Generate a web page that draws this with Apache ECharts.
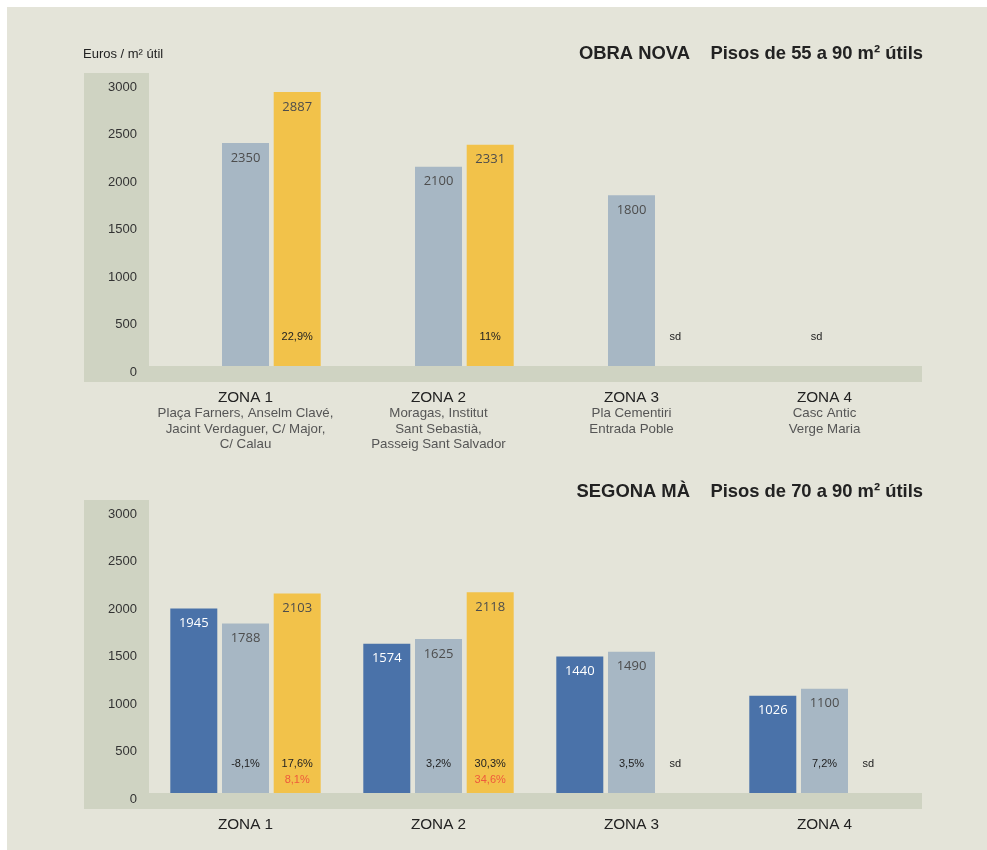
<!DOCTYPE html>
<html>
<head>
<meta charset="utf-8">
<script src="https://cdn.jsdelivr.net/npm/echarts@6/dist/echarts.min.js"></script>
<style>
  html, body { margin: 0; padding: 0; background: #ffffff; }
  #chart { width: 987px; height: 850px; }
</style>
</head>
<body>
<div id="chart"></div>
<script>
// Zones along the category axis
const zones = ['ZONA 1', 'ZONA 2', 'ZONA 3', 'ZONA 4'];
const zoneStreets = [
  ['Plaça Farners, Anselm Clavé,', 'Jacint Verdaguer, C/ Major,', 'C/ Calau'],
  ['Moragas, Institut', 'Sant Sebastià,', 'Passeig Sant Salvador'],
  ['Pla Cementiri', 'Entrada Poble'],
  ['Casc Antic', 'Verge Maria']
];

// OBRA NOVA (euros / m² útil)
const nouBlue   = [null, null, null, null];
const nouGray   = [2350, 2100, 1800, null];
const nouYellow = [2887, 2331, null, null];
const nouGrayNote   = [null, null, null, 'sd'];
const nouYellowNote = ['22,9%', '11%', 'sd', null];

// SEGONA MÀ (euros / m² útil)
const usatBlue   = [1945, 1574, 1440, 1026];
const usatGray   = [1788, 1625, 1490, 1100];
const usatYellow = [2103, 2118, null, null];
const usatGrayNote    = ['-8,1%', '3,2%', '3,5%', '7,2%'];
const usatYellowNote  = ['17,6%', '30,3%', 'sd', 'sd'];
const usatYellowNote2 = ['8,1%', '34,6%', null, null];

const C_BLUE = '#4a72a9';
const C_GRAY = '#a7b7c4';
const C_YELLOW = '#f2c24a';
const C_BAND = '#cfd3c2';
const C_BG = '#e4e4d9';

const AXIS_FONT = '"Liberation Sans", Arial, sans-serif';
const VALUE_FONT = '"Open Sans", sans-serif';

const BAR_W = 47;
const BAR_GAP = '10%';

function valueBar(name, data, xIdx, yIdx, color, labelColor) {
  return {
    type: 'bar', name: name, data: data,
    xAxisIndex: xIdx, yAxisIndex: yIdx,
    barWidth: BAR_W, barGap: BAR_GAP,
    itemStyle: { color: color },
    label: {
      show: true, position: 'insideTop', distance: 7,
      color: labelColor, fontFamily: VALUE_FONT, fontSize: 13, lineHeight: 16
    },
    z: 3
  };
}

// Transparent zero-height bars carrying the percentage / "sd" notes near the baseline
function noteBar(name, notes, notes2, xIdx, yIdx) {
  const data = notes.map(function (t, i) {
    if (t == null) return null;
    const second = notes2 && notes2[i];
    const txt = '{p|' + t + '}' + (second ? '\n{r|' + second + '}' : '');
    return {
      value: 0,
      label: { formatter: txt, offset: [t === 'sd' ? -8 : 0, -37.5] }
    };
  });
  return {
    type: 'bar', name: name, data: data,
    xAxisIndex: xIdx, yAxisIndex: yIdx,
    barWidth: BAR_W, barGap: BAR_GAP,
    itemStyle: { color: 'rgba(0,0,0,0)' },
    silent: true,
    label: {
      show: true, position: ['50%', '100%'],
      align: 'center', verticalAlign: 'top',
      rich: {
        p: { fontFamily: AXIS_FONT, fontSize: 11, color: '#222', lineHeight: 16 },
        r: { fontFamily: AXIS_FONT, fontSize: 11, color: '#ee5a3c', lineHeight: 16 }
      }
    },
    z: 4
  };
}

function zoneAxis(gridIdx, withStreets) {
  return {
    gridIndex: gridIdx, type: 'category', data: zones,
    axisLine: { show: false }, axisTick: { show: false },
    axisLabel: {
      interval: 0, margin: 23,
      formatter: function (v, i) {
        let s = '{z|' + v + '}';
        if (withStreets) zoneStreets[i].forEach(function (l) { s += '\n{s|' + l + '}'; });
        return s;
      },
      rich: {
        z: { fontFamily: AXIS_FONT, fontSize: 15.3, color: '#222', lineHeight: 17 },
        s: { fontFamily: AXIS_FONT, fontSize: 13.3, color: '#555', lineHeight: 15.5 }
      }
    }
  };
}

function hiddenAxis(gridIdx) {
  return { gridIndex: gridIdx, type: 'category', data: zones, show: false };
}

function valueAxis(gridIdx) {
  return {
    gridIndex: gridIdx, type: 'value', min: 0, max: 3000, interval: 500,
    axisLine: { show: false }, axisTick: { show: false }, splitLine: { show: false },
    axisLabel: {
      margin: 12, fontFamily: AXIS_FONT, fontSize: 13, color: '#333',
      verticalAlign: 'top', lineHeight: 12,
      formatter: function (v) { return String(v); }
    }
  };
}

function titleText(x, y, text, size, weight, align) {
  return {
    type: 'text', z: 10,
    style: {
      x: x, y: y, text: text, align: align, verticalAlign: 'middle',
      font: weight + ' ' + size + 'px ' + AXIS_FONT, fill: '#222'
    }
  };
}

const option = {
  animation: false,
  grid: [
    { left: 149, right: 66, top: 81.3, bottom: 484 },
    { left: 149, right: 66, top: 508.5, bottom: 57 }
  ],
  xAxis: [zoneAxis(0, true), zoneAxis(1, false), hiddenAxis(0), hiddenAxis(1)],
  yAxis: [valueAxis(0), valueAxis(1)],
  graphic: [
    { type: 'rect', z: -100, shape: { x: 7, y: 7, width: 980, height: 843 }, style: { fill: C_BG } },
    // panel bands: value-axis column and baseline strip
    { type: 'rect', z: -50, shape: { x: 84, y: 73, width: 65, height: 309 }, style: { fill: C_BAND } },
    { type: 'rect', z: -50, shape: { x: 84, y: 366, width: 838, height: 16 }, style: { fill: C_BAND } },
    { type: 'rect', z: -50, shape: { x: 84, y: 500, width: 65, height: 309 }, style: { fill: C_BAND } },
    { type: 'rect', z: -50, shape: { x: 84, y: 793, width: 838, height: 16 }, style: { fill: C_BAND } },
    titleText(83, 54, 'Euros / m² útil', 13, 'normal', 'left'),
    titleText(923, 54, 'OBRA NOVA    Pisos de 55 a 90 m² útils', 18.4, 'bold', 'right'),
    titleText(923, 492, 'SEGONA MÀ    Pisos de 70 a 90 m² útils', 18.4, 'bold', 'right')
  ],
  series: [
    valueBar('Obra nova A', nouBlue, 0, 0, C_BLUE, '#ffffff'),
    valueBar('Obra nova B', nouGray, 0, 0, C_GRAY, '#4d4d4d'),
    valueBar('Obra nova C', nouYellow, 0, 0, C_YELLOW, '#4d4d4d'),
    noteBar('Obra nova nota A', [null, null, null, null], null, 2, 0),
    noteBar('Obra nova nota B', nouGrayNote, null, 2, 0),
    noteBar('Obra nova nota C', nouYellowNote, null, 2, 0),

    valueBar('Segona mà A', usatBlue, 1, 1, C_BLUE, '#ffffff'),
    valueBar('Segona mà B', usatGray, 1, 1, C_GRAY, '#4d4d4d'),
    valueBar('Segona mà C', usatYellow, 1, 1, C_YELLOW, '#4d4d4d'),
    noteBar('Segona mà nota A', [null, null, null, null], null, 3, 1),
    noteBar('Segona mà nota B', usatGrayNote, null, 3, 1),
    noteBar('Segona mà nota C', usatYellowNote, usatYellowNote2, 3, 1)
  ]
};

const chart = echarts.init(document.getElementById('chart'), null, { renderer: 'canvas' });
chart.setOption(option);
</script>
</body>
</html>
